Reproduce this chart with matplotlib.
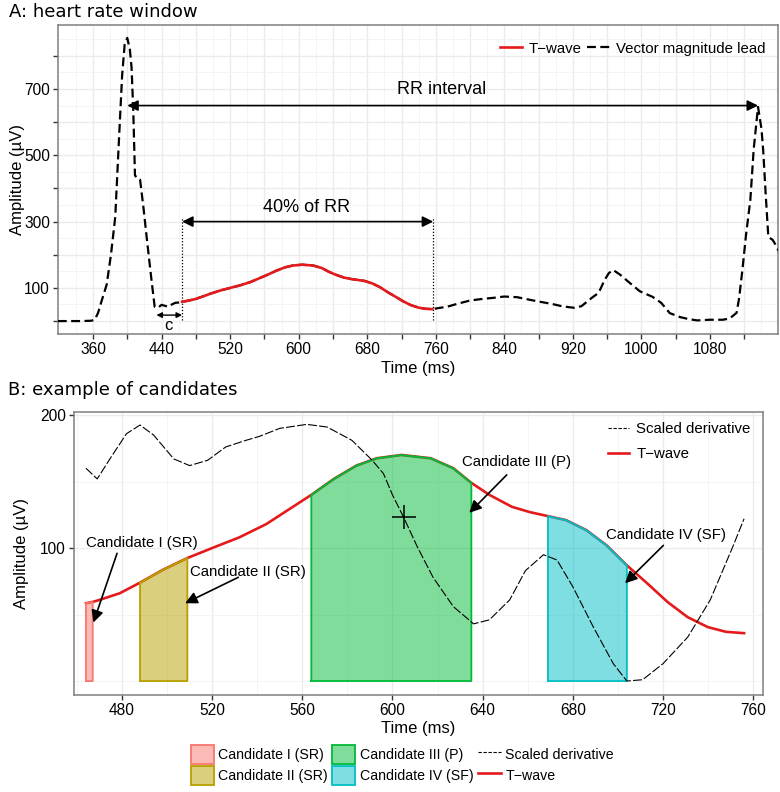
import numpy as np
import matplotlib
matplotlib.use('Agg')
import matplotlib.pyplot as plt
from matplotlib.patches import Patch
from matplotlib.lines import Line2D
from matplotlib.ticker import FixedLocator

plt.rcParams['font.family'] = ['Liberation Sans', 'DejaVu Sans']

# ---- panel A: vector magnitude lead, one beat (ms, uV) ----
vm_pre_time = [319, 330, 345, 358, 362, 366, 370, 376, 381, 386, 390, 394, 397, 400,
               403, 405, 407, 409, 412, 415, 419, 423, 428, 432, 436, 440, 444, 448,
               452, 456, 460]
vm_pre_amp = [0, 0, 0, 1, 4, 25, 60, 110, 200, 314, 530, 740, 835, 854,
              820, 766, 637, 440, 428, 426, 340, 245, 130, 43, 40, 49, 46, 43,
              50, 55, 56]
vm_post_time = [765, 773, 785, 800, 815, 827, 840, 855, 870, 882, 895, 905, 915, 922,
                930, 943, 950, 957, 962, 967, 975, 985, 998, 1013, 1023, 1033, 1045,
                1055, 1065, 1080, 1095, 1103, 1111, 1114, 1118, 1122, 1127, 1131, 1136,
                1140, 1142, 1145, 1148, 1153, 1157, 1160]
vm_post_amp = [40, 43, 52, 62, 67, 70, 74, 72, 64, 58, 52, 46, 42, 40,
               45, 72, 85, 124, 145, 154, 140, 118, 90, 73, 55, 24, 12,
               6, 2, 4, 4, 8, 25, 70, 160, 260, 365, 520, 646,
               580, 516, 380, 254, 245, 228, 212]

# T-wave (shared by both panels)
twave_time = [464, 467, 470, 479, 488, 498, 509, 520, 532, 544, 554, 564, 574, 584,
              593, 604, 617, 627, 635, 643, 653, 661, 669, 677, 686, 695, 704, 713,
              722, 731, 740, 748, 756]
twave_amp = [58.5, 59.5, 61, 66, 74, 83.5, 92.5, 100, 108, 118, 129, 140, 152, 162,
             167.5, 170, 167.5, 160, 149, 140, 131, 127, 124, 121, 113.5, 102, 87, 73.5,
             59.5, 48, 40.5, 37, 36]

r_peaks = [400, 1136]
rr_level = 650
twave_window = [464, 757]
window_level = 300
c_span = [434, 464]

# ---- panel B: scaled derivative and candidates ----
deriv_time = [464, 469, 475, 482, 488, 494, 503, 510, 518, 526, 535, 541, 550, 562,
              571, 582, 591, 596, 600, 605, 611, 618, 627, 636, 643, 652, 659, 667,
              673, 680, 689, 698, 704, 711, 720, 731, 741, 751, 756]
deriv_amp = [160, 152, 168, 186, 192.5, 185, 167, 162, 166, 176, 181, 184, 190, 193,
             191, 181, 166, 156, 140, 123, 101, 78, 56, 43, 46, 61, 83, 95,
             91, 71, 41, 13, 0, 1, 13, 33, 61, 101, 122]

cand_names = ['Candidate I (SR)', 'Candidate II (SR)', 'Candidate III (P)', 'Candidate IV (SF)']
cand_start = [464, 488, 564, 669]
cand_end = [467, 509, 635, 704]
cand_colors = ['#F8766D', '#B79F00', '#00BA38', '#00BFC4']
# label position, arrow tail, arrow tip
cand_text_xy = [(489, 104), (536, 82), (655, 165), (721.5, 110)]
cand_tail_xy = [(477.8, 96), (531.6, 78), (650.7, 155), (720.2, 102)]
cand_tip_xy = [(467.3, 44), (508, 58.5), (634.1, 126.5), (703.2, 73.5)]
peak_mark = (605, 123)

RED = '#E41A1C'
GRID = '#ebebeb'


def style(ax):
    for s in ax.spines.values():
        s.set_color('#7f7f7f')
        s.set_linewidth(1.1)
    ax.grid(which='major', color=GRID, lw=1.0)
    ax.grid(which='minor', color='#f2f2f2', lw=0.6)
    ax.set_axisbelow(True)
    ax.tick_params(which='major', length=3.6, width=1.0, color='#333333',
                   labelsize=11.2, labelcolor='black', pad=2.2)
    ax.tick_params(which='minor', length=0)


fig = plt.figure(figsize=(7.8, 7.92), dpi=100)

# ================= panel A =================
axA = fig.add_axes([58 / 780, 1 - 334 / 792, 720 / 780, 309 / 792])
style(axA)
vm_time = vm_pre_time + twave_time + vm_post_time
vm_amp = vm_pre_amp + twave_amp + vm_post_amp
axA.plot(vm_time, vm_amp, color='black', lw=1.6, dashes=(4, 2), label='Vector magnitude lead', zorder=3)
axA.plot(twave_time, twave_amp, color=RED, lw=1.9, label='T\u2212wave', zorder=4)

xt = list(range(360, 1121, 40))
axA.xaxis.set_major_locator(FixedLocator(xt))
axA.set_xticklabels([str(v) if (v - 360) % 80 == 0 else '' for v in xt])
axA.xaxis.set_minor_locator(FixedLocator([v + 20 for v in range(320, 1141, 40)]))
yt = list(range(0, 801, 100))
axA.yaxis.set_major_locator(FixedLocator(yt))
axA.set_yticklabels([str(v) if v % 200 == 100 else '' for v in yt])
axA.yaxis.set_minor_locator(FixedLocator([v + 50 for v in range(0, 851, 100)]))
axA.set_xlim(319.2, 1159.3)
axA.set_ylim(-39, 893)

# annotations A
arr = dict(arrowstyle='<|-|>', color='black', lw=1.2, mutation_scale=16, shrinkA=0, shrinkB=0)
axA.annotate('', xy=(r_peaks[1], rr_level), xytext=(r_peaks[0], rr_level), arrowprops=arr)
axA.text(767, 697, 'RR interval', ha='center', va='center', fontsize=13)
axA.annotate('', xy=(twave_window[1], window_level), xytext=(twave_window[0], window_level), arrowprops=arr)
axA.text(609, 344, '40% of RR', ha='center', va='center', fontsize=13)
for xv in twave_window:
    axA.plot([xv, xv], [3, 315], color='black', lw=0.9, ls=(0, (1, 1.5)), zorder=2)
arr_c = dict(arrowstyle='<|-|>', color='black', lw=1.0, mutation_scale=8, shrinkA=0, shrinkB=0)
axA.annotate('', xy=(c_span[1], 18), xytext=(c_span[0], 18), arrowprops=arr_c)
axA.text(448, -12, 'c', ha='center', va='center', fontsize=12)

axA.legend(handles=[axA.lines[1], axA.lines[0]], loc='upper right', ncol=2, frameon=False,
           fontsize=10.8, handlelength=1.5, handletextpad=0.4, columnspacing=0.4,
           bbox_to_anchor=(0.995, 0.975), borderaxespad=0.2)

axA.set_xlabel('Time (ms)', fontsize=12)
axA.xaxis.set_label_coords(0.5, -0.088)
axA.set_ylabel('Amplitude (\u00b5V)', fontsize=12, va='center')
axA.yaxis.set_label_coords(-40 / 720, 0.5)

fig.text(9 / 780, 1 - 12 / 792, 'A: heart rate window', ha='left', va='center',
         fontsize=13, family='DejaVu Sans')
fig.text(8 / 780, 1 - 390 / 792, 'B: example of candidates', ha='left', va='center',
         fontsize=13, family='DejaVu Sans')

# ================= panel B =================
axB = fig.add_axes([74 / 780, 1 - 695 / 792, 689 / 780, 283 / 792])
style(axB)
tw_t = np.array(twave_time)
tw_a = np.array(twave_amp)
axB.plot(twave_time, twave_amp, color=RED, lw=1.9, zorder=3)
cand_handles = []
for name, a, b, col in zip(cand_names, cand_start, cand_end, cand_colors):
    m = (tw_t >= a) & (tw_t <= b)
    axB.fill_between(tw_t[m], 0, tw_a[m], facecolor=col, alpha=0.5, edgecolor='none', zorder=4)
    xs = np.concatenate([[tw_t[m][0]], tw_t[m], [tw_t[m][-1]], [tw_t[m][0]]])
    ys = np.concatenate([[0], tw_a[m], [0], [0]])
    axB.plot(xs, ys, color=col, lw=1.3, zorder=5)
    cand_handles.append(Patch(facecolor=matplotlib.colors.to_rgba(col, 0.5), edgecolor=col, lw=1.3, label=name))
axB.plot(deriv_time, deriv_amp, color='black', lw=0.8, dashes=(8, 2), zorder=6)
axB.plot(*peak_mark, marker='+', ms=17, mew=1.1, color='black', zorder=7)

arrB = dict(arrowstyle='-|>', color='black', lw=1.2, mutation_scale=18, shrinkA=0, shrinkB=0)
for name, txy, tail, tip in zip(cand_names, cand_text_xy, cand_tail_xy, cand_tip_xy):
    axB.text(txy[0], txy[1], name, ha='center', va='center', fontsize=10.8, zorder=8)
    axB.annotate('', xy=tip, xytext=tail, arrowprops=arrB, zorder=8)

axB.xaxis.set_major_locator(FixedLocator(list(range(480, 761, 40))))
axB.xaxis.set_minor_locator(FixedLocator(list(range(460, 741, 40))))
axB.yaxis.set_major_locator(FixedLocator([100, 200]))
axB.yaxis.set_minor_locator(FixedLocator([0, 50, 150]))
axB.set_xlim(458.7, 764.4)
axB.set_ylim(-10.5, 202.3)

deriv_h = Line2D([], [], color='black', lw=0.8, dashes=(3, 1.5), label='Scaled derivative')
twave_h = Line2D([], [], color=RED, lw=1.9, label='T\u2212wave')
axB.legend(handles=[deriv_h, twave_h], loc='upper right', frameon=False, fontsize=10.8,
           handlelength=1.4, handletextpad=0.45, labelspacing=0.72,
           bbox_to_anchor=(0.995, 0.995), borderaxespad=0.2)

axB.set_xlabel('Time (ms)', fontsize=12)
axB.xaxis.set_label_coords(0.5, -0.092)
axB.set_ylabel('Amplitude (\u00b5V)', fontsize=12, va='center')
axB.yaxis.set_label_coords(-52 / 689, 0.5)

fig.legend(handles=[cand_handles[0], cand_handles[1], cand_handles[2], cand_handles[3], deriv_h, twave_h],
           loc='center', bbox_to_anchor=(0.516, 1 - 765 / 792), ncol=3, frameon=False,
           fontsize=10.2, handlelength=1.6, handleheight=1.65, handletextpad=0.35,
           labelspacing=0.15, columnspacing=0.3)

fig.savefig('out.png', dpi=100)
